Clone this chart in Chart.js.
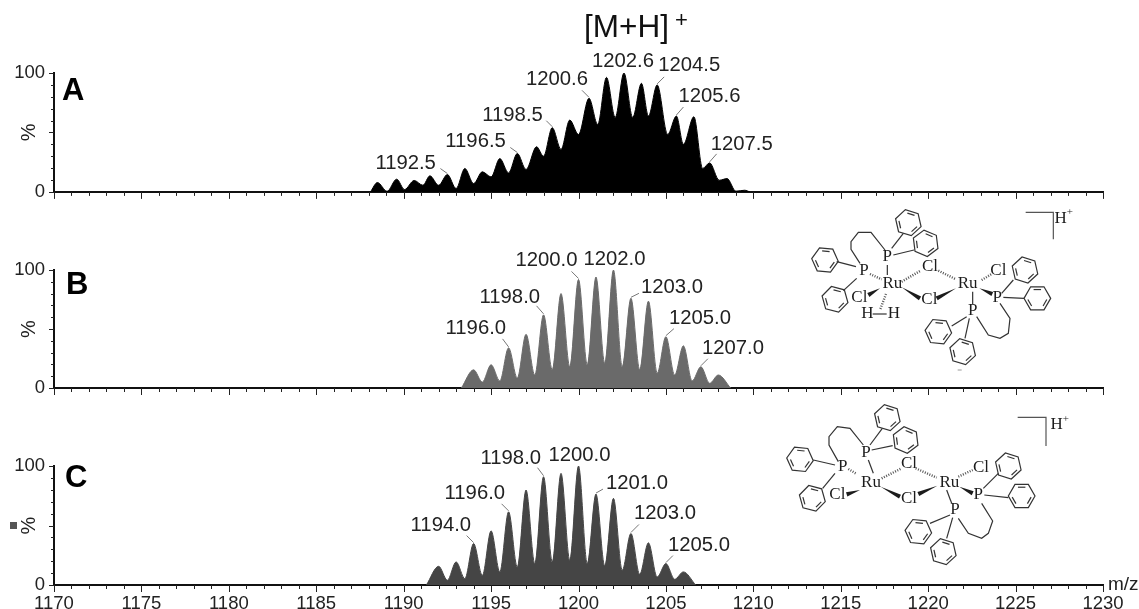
<!DOCTYPE html>
<html>
<head>
<meta charset="utf-8">
<script src="https://cdn.jsdelivr.net/npm/chart.js@4"></script>
<style>
  html, body { margin: 0; padding: 0; background: #fff; }
  #page { position: relative; width: 1139px; height: 609px; overflow: hidden; }
  #page div { position: absolute; left: 0; width: 1139px; }
</style>
</head>
<body>
<div id="page">
  <div style="top:2px;height:210px"><canvas id="panelA"></canvas></div>
  <div style="top:205px;height:205px"><canvas id="panelB"></canvas></div>
  <div style="top:400px;height:209px"><canvas id="panelC"></canvas></div>
</div>
<script>
const mzA = [1188.1, 1188.5, 1189.05, 1189.6, 1190.05, 1190.6, 1191.1, 1191.5, 1192.0, 1192.5, 1193.0, 1193.5, 1194.0, 1194.5, 1195.0, 1195.5, 1196.0, 1196.5, 1197.0, 1197.6, 1198.0, 1198.5, 1199.0, 1199.5, 1200.0, 1200.6, 1201.1, 1201.6, 1202.1, 1202.6, 1203.1, 1203.6, 1204.0, 1204.5, 1205.1, 1205.6, 1206.0, 1206.6, 1207.1, 1207.5, 1208.05, 1208.5, 1209.0, 1209.5, 1209.8];
const intensityA = [0, 7.9, 0.5, 10.7, 2, 9.6, 5.6, 13.5, 5.6, 14.6, 2.8, 19.7, 7, 16.9, 12.6, 28, 16, 32.3, 18.8, 38, 30, 54, 35.7, 60.4, 48.3, 78.7, 56.7, 96.3, 62.6, 100, 62.6, 91.3, 63.8, 90, 48.3, 63.8, 40, 63.2, 19.7, 24.4, 9.8, 11.2, 0.6, 1.4, 0];

const mzB = [1193.3, 1194, 1194.5, 1195, 1195.5, 1196, 1196.5, 1197, 1197.5, 1198, 1198.5, 1199, 1199.5, 1200, 1200.5, 1201, 1201.5, 1202, 1202.5, 1203, 1203.5, 1204, 1204.5, 1205, 1205.5, 1206, 1206.5, 1207, 1207.5, 1208, 1208.7];
const intensityB = [0, 15.4, 5, 19.7, 6, 34, 8.5, 45.5, 11, 62, 15.5, 80, 18, 92, 19.7, 94, 21, 100, 18, 76, 15.5, 73.6, 12.6, 43.5, 11, 35.7, 6, 18, 4, 11, 0];

const mzC = [1191.3, 1192, 1192.5, 1193, 1193.5, 1194, 1194.5, 1195, 1195.5, 1196, 1196.5, 1197, 1197.5, 1198, 1198.5, 1199, 1199.5, 1200, 1200.5, 1201, 1201.5, 1202, 1202.5, 1203, 1203.5, 1204, 1204.5, 1205, 1205.5, 1206, 1206.7];
const intensityC = [0, 15.7, 4, 19.4, 5.3, 34.8, 8, 45.5, 11, 61.5, 15, 79.8, 18, 91, 19.4, 93.8, 20.8, 100, 18, 76.4, 16, 72.8, 12.4, 43.3, 9, 35.4, 6.7, 18, 4.8, 11, 0];

const peakLabelsA = ['1192.5', '1196.5', '1198.5', '1200.6', '1202.6', '1204.5', '1205.6', '1207.5'];
const peakLabelsB = ['1196.0', '1198.0', '1200.0', '1202.0', '1203.0', '1205.0', '1207.0'];
const peakLabelsC = ['1194.0', '1196.0', '1198.0', '1200.0', '1201.0', '1203.0', '1205.0'];

// where each label sits relative to its peak: text dx, dy, leader dx, dy (null = no leader)
const labelOffsetsA = [[-72, -6, -7, -6], [-72, -6, -7, -6], [-70, -7, -6, -7], [-63, -13, -7, -8], [-32, -6, null, null], [1, -14, 7, -8], [2, -14, 7, -9], [1, -13, 7, -9]];
const labelOffsetsB = [[-63, -14, -6, -9], [-64, -12, -7, -9], [-63, -13, -7, -8], [-30, -5, null, null], [10, -5, 8, -5], [3, -13, 8, -8], [1, -13, 7, -8]];
const labelOffsetsC = [[-63, -13, -7, -8], [-64, -13, -7, -8], [-63, -13, -6, -9], [-30, -5, null, null], [10, -5, 7, -5], [3, -14, 8, -9], [2, -13, 7, -8]];

// structure sketches, coordinates in 3x pixels from the given origin
const moleculeB = {
  ox: 790, oy: 200,
  rings: [[355, 68, 0.3], [407, 130, 0.4], [105, 180, 0.1], [135, 298, 0.25], [705, 210, 0.3], [742, 295, 0], [445, 395, 0.1], [518, 455, 0.3]],
  bonds: [[305, 145, 340, 100], [310, 165, 372, 150], [285, 150, 243, 97, 205, 97, 183, 125, 183, 148, 210, 190], [198, 200, 140, 185], [200, 235, 160, 272], [292, 195, 292, 225], [248, 342, 290, 342], [635, 280, 670, 240], [640, 292, 702, 295], [548, 275, 548, 312], [530, 350, 485, 378], [538, 355, 525, 415], [560, 350, 595, 405, 630, 415, 655, 400, 660, 355, 630, 310]],
  hashes: [[240, 222, 275, 238], [335, 245, 392, 212], [445, 212, 498, 238], [288, 282, 270, 330], [575, 240, 605, 222]],
  wedges: [[335, 262, 390, 295], [498, 265, 440, 295], [270, 265, 235, 285], [568, 265, 607, 282]],
  atoms: [['P', 292, 170], ['P', 222, 212], ['Ru', 307, 250], ['Cl', 420, 200], ['Cl', 418, 300], ['Ru', 533, 250], ['Cl', 625, 212], ['P', 622, 292], ['P', 548, 333], ['Cl', 208, 293], ['H', 232, 342], ['H', 312, 342]],
  bracket: [707, 37, 790, 37, 790, 118],
  charge: [812, 55],
  speck: [503, 510, 515, 510]
};
const moleculeC = {
  ox: 750, oy: 395,
  rings: [[412, 68, 0.3], [467, 135, 0.4], [150, 193, 0.1], [187, 310, 0.25], [775, 213, 0.3], [815, 303, 0], [505, 410, 0.1], [580, 470, 0.3]],
  bonds: [[360, 150, 397, 100], [365, 165, 428, 152], [340, 150, 300, 100, 262, 95, 237, 125, 237, 150, 265, 200], [255, 210, 190, 195], [255, 235, 218, 280], [355, 195, 370, 235], [700, 280, 745, 235], [703, 300, 775, 308], [590, 285, 605, 325], [600, 360, 540, 385], [608, 368, 590, 430], [625, 370, 655, 415, 695, 430, 715, 415, 728, 378, 695, 325]],
  hashes: [[295, 222, 320, 237], [395, 250, 455, 220], [497, 220, 560, 248], [625, 245, 668, 225]],
  wedges: [[392, 275, 450, 305], [562, 272, 505, 297], [330, 285, 290, 298], [628, 275, 668, 295]],
  atoms: [['P', 348, 172], ['P', 278, 215], ['Ru', 363, 262], ['Cl', 477, 207], ['Cl', 477, 310], ['Ru', 598, 262], ['Cl', 693, 217], ['P', 685, 300], ['P', 615, 345], ['Cl', 262, 300]],
  bracket: [803, 67, 888, 67, 888, 153],
  charge: [920, 90]
};

const SANS = '"Liberation Sans", Arial, sans-serif';
const SERIF = '"Liberation Serif", "Times New Roman", serif';
const INK = '#222';

function drawRing(ctx, m, ring) {
  const [cx, cy, rot] = ring;
  const pts = [];
  for (let i = 0; i < 6; i++) {
    const a = rot + i * Math.PI / 3;
    pts.push([m.ox + (cx + 40 * Math.cos(a)) / 3, m.oy + (cy + 40 * Math.sin(a)) / 3]);
  }
  ctx.beginPath();
  pts.forEach((p, i) => (i ? ctx.lineTo(p[0], p[1]) : ctx.moveTo(p[0], p[1])));
  ctx.closePath();
  ctx.stroke();
  // inner double bonds
  const c = [m.ox + cx / 3, m.oy + cy / 3];
  for (let i = 0; i < 6; i += 2) {
    const a = pts[i], b = pts[i + 1];
    ctx.beginPath();
    ctx.moveTo(c[0] + (a[0] - c[0]) * 0.76 + (b[0] - a[0]) * 0.1, c[1] + (a[1] - c[1]) * 0.76 + (b[1] - a[1]) * 0.1);
    ctx.lineTo(c[0] + (b[0] - c[0]) * 0.76 - (b[0] - a[0]) * 0.1, c[1] + (b[1] - c[1]) * 0.76 - (b[1] - a[1]) * 0.1);
    ctx.stroke();
  }
}

function drawMolecule(ctx, m) {
  const px = (v) => m.ox + v / 3;
  const py = (v) => m.oy + v / 3;
  ctx.save();
  ctx.strokeStyle = '#333';
  ctx.fillStyle = '#1c1c1c';
  ctx.lineWidth = 1.2;
  m.rings.forEach((r) => drawRing(ctx, m, r));
  m.bonds.forEach((b) => {
    ctx.beginPath();
    for (let i = 0; i < b.length; i += 2) {
      if (i) ctx.lineTo(px(b[i]), py(b[i + 1]));
      else ctx.moveTo(px(b[i]), py(b[i + 1]));
    }
    ctx.stroke();
  });
  m.hashes.forEach(([x1, y1, x2, y2]) => {
    ctx.save();
    ctx.setLineDash([1, 1.5]);
    ctx.lineWidth = 2.4;
    ctx.strokeStyle = '#555';
    ctx.beginPath();
    ctx.moveTo(px(x1), py(y1));
    ctx.lineTo(px(x2), py(y2));
    ctx.stroke();
    ctx.restore();
  });
  // wedge is narrow at the first end
  m.wedges.forEach(([x1, y1, x2, y2]) => {
    const dx = px(x2) - px(x1), dy = py(y2) - py(y1);
    const len = Math.hypot(dx, dy);
    const nx = -dy / len * 2.2, ny = dx / len * 2.2;
    ctx.beginPath();
    ctx.moveTo(px(x1), py(y1));
    ctx.lineTo(px(x2) + nx, py(y2) + ny);
    ctx.lineTo(px(x2) - nx, py(y2) - ny);
    ctx.closePath();
    ctx.fill();
  });
  ctx.font = '17px ' + SERIF;
  ctx.textAlign = 'center';
  ctx.textBaseline = 'middle';
  m.atoms.forEach(([t, x, y]) => ctx.fillText(t, px(x), py(y)));
  ctx.strokeStyle = '#555';
  ctx.beginPath();
  ctx.moveTo(px(m.bracket[0]), py(m.bracket[1]));
  ctx.lineTo(px(m.bracket[2]), py(m.bracket[3]));
  ctx.lineTo(px(m.bracket[4]), py(m.bracket[5]));
  ctx.stroke();
  ctx.textAlign = 'left';
  ctx.font = '17px ' + SERIF;
  const hw = ctx.measureText('H').width;
  ctx.fillText('H', px(m.charge[0]) - hw / 2, py(m.charge[1]));
  ctx.font = '11px ' + SERIF;
  ctx.fillText('+', px(m.charge[0]) + hw / 2, py(m.charge[1]) - 6);
  if (m.speck) {
    ctx.strokeStyle = '#aaa';
    ctx.beginPath();
    ctx.moveTo(px(m.speck[0]), py(m.speck[1]));
    ctx.lineTo(px(m.speck[2]), py(m.speck[3]));
    ctx.stroke();
  }
  ctx.restore();
}

// minor / major tick marks, the axis only allows one tick length
const tickMarks = {
  id: 'tickMarks',
  afterDraw(chart) {
    const { ctx, scales: { x, y } } = chart;
    ctx.save();
    ctx.strokeStyle = '#222';
    ctx.lineWidth = 1;
    ctx.beginPath();
    x.ticks.forEach((t) => {
      const p = Math.round(x.getPixelForValue(t.value)) + 0.5;
      ctx.moveTo(p, y.bottom);
      ctx.lineTo(p, y.bottom + (t.value % 5 === 0 ? 7 : 4));
    });
    y.ticks.forEach((t) => {
      const p = Math.round(y.getPixelForValue(t.value)) + 0.5;
      ctx.moveTo(x.left, p);
      ctx.lineTo(x.left - (t.value % 50 === 0 ? 5 : 3), p);
    });
    ctx.stroke();
    ctx.restore();
  }
};

const peakLabels = {
  id: 'peakLabels',
  afterDatasetsDraw(chart, args, opts) {
    const { ctx } = chart;
    const points = chart.getDatasetMeta(0).data;
    const mz = chart.data.datasets[0].data;
    ctx.save();
    ctx.font = '20.3px ' + SANS;
    ctx.textBaseline = 'alphabetic';
    ctx.fillStyle = INK;
    ctx.strokeStyle = '#777';
    ctx.lineWidth = 1;
    opts.labels.forEach((label, i) => {
      const idx = mz.findIndex((d) => d.x === parseFloat(label));
      const pt = points[idx];
      const [dx, dy, lx, ly] = opts.offsets[i];
      ctx.fillText(label, pt.x + dx, pt.y + dy);
      if (lx !== null) {
        ctx.beginPath();
        ctx.moveTo(pt.x + lx, pt.y + ly);
        ctx.lineTo(pt.x, pt.y - 1);
        ctx.stroke();
      }
    });
    // panel letter
    ctx.font = 'bold 31px ' + SANS;
    ctx.fillStyle = '#000';
    ctx.fillText(opts.letter, opts.letterX, opts.letterY);
    ctx.restore();
    if (opts.extra) opts.extra(ctx);
  }
};

function makePanel(id, cfg) {
  const points = cfg.mz.map((m, i) => ({ x: m, y: cfg.values[i] }));
  return new Chart(document.getElementById(id), {
    type: 'line',
    data: {
      datasets: [{
        data: points,
        borderColor: cfg.color,
        backgroundColor: cfg.color,
        borderWidth: 1,
        fill: 'origin',
        pointRadius: 0,
        cubicInterpolationMode: 'monotone'
      }]
    },
    plugins: [tickMarks, peakLabels],
    options: {
      responsive: true,
      maintainAspectRatio: false,
      animation: false,
      layout: { padding: { top: cfg.top, right: 36, left: 0, bottom: 0 } },
      plugins: {
        legend: { display: false },
        tooltip: { enabled: false },
        peakLabels: { labels: cfg.labels, offsets: cfg.offsets, letter: cfg.letter, letterX: cfg.letterX, letterY: cfg.letterY, extra: cfg.extra }
      },
      scales: {
        x: {
          type: 'linear',
          min: 1170,
          max: 1230,
          afterFit: (s) => { s.height = cfg.axisHeight; },
          border: { display: true, color: '#111', width: 2 },
          grid: { display: false, drawTicks: false },
          ticks: {
            stepSize: 1,
            autoSkip: false,
            maxRotation: 0,
            padding: 8,
            color: INK,
            font: { family: SANS, size: 18.5 },
            callback: (v) => (cfg.showX && v % 5 === 0 ? String(v) : '')
          }
        },
        y: {
          min: 0,
          max: 100,
          afterFit: (s) => { s.width = 54; },
          border: { display: true, color: '#111', width: 2 },
          grid: { display: false, drawTicks: false },
          title: { display: true, text: '%', color: INK, font: { family: SANS, size: 20 }, padding: { top: 17, bottom: 0 } },
          ticks: {
            stepSize: 10,
            autoSkip: false,
            padding: 9,
            color: INK,
            font: { family: SANS, size: 18.5 },
            callback: (v) => (v === 0 || v === 100 ? String(v) : '')
          }
        }
      }
    }
  });
}

makePanel('panelA', {
  mz: mzA, values: intensityA, color: '#000', top: 71, axisHeight: 16,
  labels: peakLabelsA, offsets: labelOffsetsA, letter: 'A', letterX: 62, letterY: 98,
  extra: (ctx) => {
    ctx.save();
    ctx.fillStyle = '#111';
    ctx.font = '31.5px ' + SANS;
    ctx.fillText('[M+H]', 584, 35);
    ctx.font = '22px ' + SANS;
    ctx.fillText('+', 675, 25);
    ctx.restore();
  }
});
makePanel('panelB', {
  mz: mzB, values: intensityB, color: '#6a6a6a', top: 65, axisHeight: 22,
  labels: peakLabelsB, offsets: labelOffsetsB, letter: 'B', letterX: 66, letterY: 89,
  extra: (ctx) => {
    ctx.save();
    ctx.translate(0, -205);
    drawMolecule(ctx, moleculeB);
    ctx.restore();
  }
});
makePanel('panelC', {
  mz: mzC, values: intensityC, color: '#454545', top: 66, axisHeight: 24, showX: true,
  labels: peakLabelsC, offsets: labelOffsetsC, letter: 'C', letterX: 65, letterY: 87,
  extra: (ctx) => {
    ctx.save();
    ctx.translate(0, -400);
    drawMolecule(ctx, moleculeC);
    ctx.fillStyle = INK;
    ctx.font = '19px ' + SANS;
    ctx.fillText('m/z', 1108, 590);
    ctx.fillStyle = '#555';
    ctx.fillRect(10, 522, 7, 7);
    ctx.restore();
  }
});
</script>
</body>
</html>
